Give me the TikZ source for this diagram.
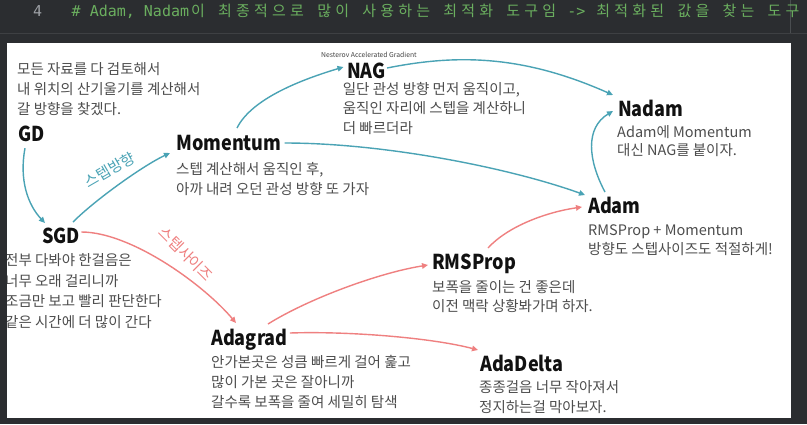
\documentclass[tikz,border=0pt]{standalone}
\usepackage{fontspec}
\setmainfont{Noto Sans CJK KR}
\newfontfamily\krfont{Noto Sans CJK KR}
\newfontfamily\titlefont[FakeStretch=0.88]{Noto Sans CJK KR}
\newfontfamily\asciimono{DejaVu Sans Mono}
\usetikzlibrary{arrows.meta}
\definecolor{bgdark}{HTML}{2B2D30}
\definecolor{sepgray}{HTML}{3E4043}
\definecolor{rulergray}{HTML}{4A4D50}
\definecolor{linenogray}{HTML}{9DA0A5}
\definecolor{commentgreen}{HTML}{6BAF5F}
\definecolor{tealc}{HTML}{4AA3B5}
\definecolor{redc}{HTML}{EF8080}
\definecolor{descgray}{HTML}{4D4D4D}
\definecolor{titleblack}{HTML}{111111}
\definecolor{tinygray}{HTML}{444444}
\newcommand\ca[1]{{\asciimono #1}}
\def\kb#1{\ifx\relax#1\else\makebox[18pt][c]{#1}\expandafter\kb\fi}
\newcommand\ck[1]{{\krfont\kb #1\relax}}
\newcommand\fl{\rule{0pt}{13pt}}
\tikzset{
  title/.style={font=\fontsize{20.5}{24}\selectfont\titlefont\bfseries, text=titleblack, inner sep=0, anchor=base west},
  desc/.style={font=\fontsize{14.5}{#1}\selectfont, text=descgray, inner sep=0, anchor=north west, align=left},
  desc/.default=20,
  tarrow/.style={draw=tealc, line width=1.4pt, -{Triangle[length=6pt,width=5.5pt]}},
  rarrow/.style={draw=redc, line width=1.4pt, -{Triangle[length=6pt,width=5.5pt]}},
  slabel/.style={font=\fontsize{15}{15}\selectfont, inner sep=0}
}
\begin{document}
\begin{tikzpicture}[x=1pt,y=-1pt]
\useasboundingbox (0,0) rectangle (807,424);
\fill[bgdark] (0,0) rectangle (807,424);
\draw[sepgray, line width=1pt] (0,33.5) -- (807,33.5);
\draw[rulergray, line width=1pt] (790.5,0) -- (790.5,33);
\node[anchor=base west, inner sep=0, text=linenogray, font=\asciimono\fontsize{15}{15}\selectfont] (lineno) at (33,16) {4};
\node[anchor=base west, inner sep=0, text=commentgreen, font=\fontsize{15}{15}\selectfont] (comment) at (71.5,16)
 {\ca{\# Adam, Nadam}\ck{이}\ca{\ }\ck{최종적으로}\ca{\ }\ck{많이}\ca{\ }\ck{사용하는}\ca{\ }\ck{최적화}\ca{\ }\ck{도구임}\ca{\ ->\ }\ck{최적화된}\ca{\ }\ck{값을}\ca{\ }\ck{찾는}\ca{\ }\ck{도구}};
\fill[white] (7,43) rectangle (791,418);
\begin{scope}
\clip (7,43) rectangle (791,418);
% titles
\node[title] (gd) at (18,141.7) {GD};
\node[title] (mom) at (176,150) {Momentum};
\node[title] (sgd) at (42,243.5) {SGD};
\node[title] (nag) at (347,78) {NAG};
\node[title] (nadam) at (618,116) {Nadam};
\node[title] (adam) at (588,213.5) {Adam};
\node[title] (rms) at (432,269) {RMSProp};
\node[title] (adagrad) at (211,345) {Adagrad};
\node[title] (adadelta) at (480,371.5) {AdaDelta};
% descriptions
\node[desc] (gddesc) at (17,61) {\fl 모든 자료를 다 검토해서\\내 위치의 산기울기를 계산해서\\갈 방향을 찾겠다.};
\node[desc] (momdesc) at (176,161) {\fl 스텝 계산해서 움직인 후,\\아까 내려 오던 관성 방향 또 가자};
\node[desc={20.5}] (sgddesc) at (5,252.5) {\fl 전부 다봐야 한걸음은\\너무 오래 걸리니까\\조금만 보고 빨리 판단한다\\같은 시간에 더 많이 간다};
\node[desc={19.5}] (nagdesc) at (342.7,81) {\fl 일단 관성 방향 먼저 움직이고,\\움직인 자리에 스텝을 계산하니\\더 빠르더라};
\node[desc={18.5}] (nadamdesc) at (617,124) {\fl Adam에 Momentum\\대신 NAG를 붙이자.};
\node[desc={18.5}] (adamdesc) at (588,222.5) {\fl RMSProp + Momentum\\방향도 스텝사이즈도 적절하게!};
\node[desc={19.5}] (rmsdesc) at (432,279) {\fl 보폭을 줄이는 건 좋은데\\이전 맥락 상황봐가며 하자.};
\node[desc] (adagraddesc) at (211,354) {\fl 안가본곳은 성큼 빠르게 걸어 훑고\\많이 가본 곳은 잘아니까\\갈수록 보폭을 줄여 세밀히 탐색};
\node[desc] (adadeltadesc) at (479,379) {\fl 종종걸음 너무 작아져서\\정지하는걸 막아보자.};
% small label
\node[anchor=west, inner sep=0, text=tinygray, font=\fontsize{6.8}{7}\selectfont] (nagfull) at (321,55) {Nesterov Accelerated Gradient};
% edge labels
\node[slabel, text=tealc, rotate=30] (lbldir) at (110,170) {스텝방향};
\node[slabel, text=redc, rotate=-45] (lblsize) at (186,254) {스텝사이즈};
% teal connectors
\draw[tarrow] ([shift={(7,6.5)}]gd.base west) .. controls +(-6,32) and +(-17,-18) .. ([shift={(3,-20.5)}]sgd.base west);
\draw[tarrow] ([shift={(31,-21.5)}]sgd.base west) .. controls +(22,-22) and +(-27,12.6) .. ([shift={(-6,3)}]mom.base west);
\draw[tarrow] ([shift={(61,-22)}]mom.base west) .. controls +(15,-30) and +(-40,12) .. ([shift={(-3.5,-11)}]nag.base west);
\draw[tarrow] ([shift={(3,-7)}]mom.base east) .. controls +(100,0) and +(-75,-27) .. ([shift={(-3,-18.5)}]adam.base west);
\draw[tarrow] ([shift={(1,-10)}]nag.base east) .. controls +(70,-14) and +(-90,-40) .. ([shift={(-5,-21)}]nadam.base west);
\draw[tarrow] ([shift={(17,-21.5)}]adam.base west) .. controls +(-17,-32) and +(-28,17) .. ([shift={(-5,-5)}]nadam.base west);
% red connectors
\draw[rarrow] ([shift={(1,-11.5)}]sgd.base east) .. controls +(50,0) and +(-32,-38) .. ([shift={(25,-22)}]adagrad.base west);
\draw[rarrow] ([shift={(57,-21)}]adagrad.base west) .. controls +(40,-25) and +(-50,8) .. ([shift={(-4,-4)}]rms.base west);
\draw[rarrow] ([shift={(2,-12)}]adagrad.base east) .. controls +(60,-2) and +(-45,-12) .. ([shift={(-2,-21.5)}]adadelta.base west);
\draw[rarrow] ([shift={(56,-21)}]rms.base west) .. controls +(20,-22) and +(-35,5) .. ([shift={(-6,-6.5)}]adam.base west);
\end{scope}
\end{tikzpicture}
\end{document}
